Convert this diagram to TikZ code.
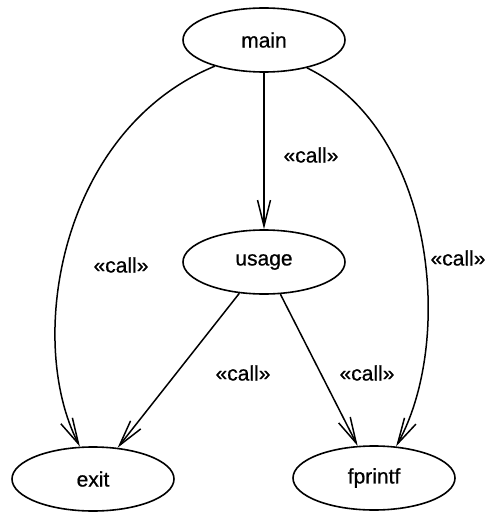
\documentclass[tikz,border=0pt]{standalone}
\usepackage{fontspec}
\setmainfont{Liberation Sans}
\newfontfamily\heavysans{Liberation Sans}[FakeBold=0.7]
\usetikzlibrary{shapes.geometric,arrows.meta}
\begin{document}
\begin{tikzpicture}[x=1pt,y=-1pt,
  uc/.style={draw, ellipse, line width=1.6pt, minimum width=162pt, minimum height=64pt, inner sep=0pt, font=\heavysans\fontsize{21}{24}\selectfont},
  lbl/.style={font=\heavysans\fontsize{21}{24}\selectfont, inner sep=0pt},
  dep/.style={line width=1.5pt, -{Straight Barb[length=26pt,width=13pt,line width=1.5pt]}}]
\useasboundingbox[fill=white] (0,0) rectangle (487,516);
\node[uc] (main) at (264,40) {main};
\node[uc] (usage) at (264,262) {usage};
\node[uc] (exit) at (93,479) {exit};
\node[uc] (fprintf) at (374,478) {fprintf};
\draw[dep] (main) -- (usage);
\draw[dep] (main.208) .. controls (60,130) and (25,340) .. (exit.112);
\draw[dep] (main.327) .. controls (435,130) and (455,340) .. (fprintf.55);
\draw[dep] (usage) -- (exit);
\draw[dep] (usage) -- (fprintf);
\node[lbl] (l1) at (311,155) {«call»};
\node[lbl] (l2) at (121,265) {«call»};
\node[lbl] (l3) at (458,258) {«call»};
\node[lbl] (l4) at (243,373) {«call»};
\node[lbl] (l5) at (367,373) {«call»};
\end{tikzpicture}
\end{document}
